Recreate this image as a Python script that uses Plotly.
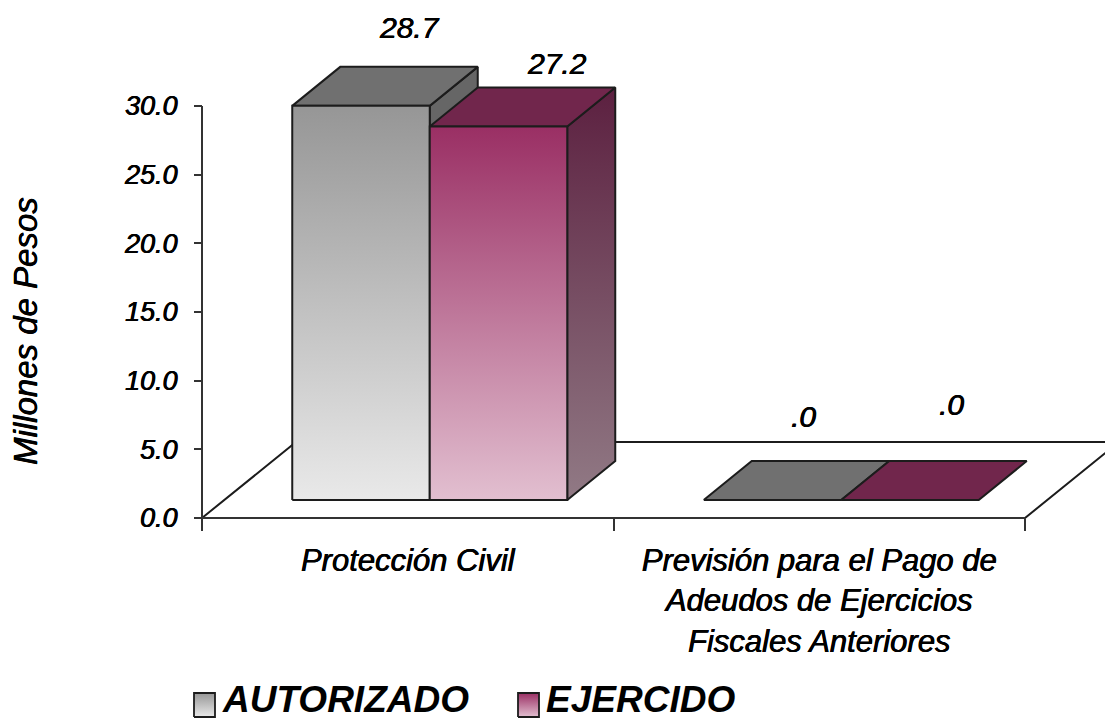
import plotly.graph_objects as go

categories = ["Protección Civil", "Previsión para el Pago de<br>Adeudos de Ejercicios<br>Fiscales Anteriores"]
series_names = ["AUTORIZADO", "EJERCIDO"]
autorizado = [28.7, 0.0]
ejercido = [27.2, 0.0]
value_labels = [["28.7", ".0"], ["27.2", ".0"]]
y_ticks = [0, 5, 10, 15, 20, 25, 30]
y_tick_labels = ["0.0", "5.0", "10.0", "15.0", "20.0", "25.0", "30.0"]

W, H = 1105, 721
L, R, T, B = 202, 1025, 106, 518
PX = (R - L) / 2.0      # px per x unit
PY = (B - T) / 30.0     # px per y unit
def dx(p): return p / PX
def dy(p): return p / PY
def px_x(p): return (p - L) / PX
def px_y(p): return (B - p) / PY

FLOOR_DX, FLOOR_DY = dx(94), dy(76)
FRONT_DX, FRONT_DY = dx(22), dy(18)
DEPTH_DX, DEPTH_DY = dx(48), dy(39)
BAR_W = dx(137.5)
INK = "#1c1c1c"
AXIS = "#333333"
FONT = "Liberation Sans"
HEAVY = "0.4px 0 0 #000, -0.3px 0 0 #000"

styles = [
    dict(front=("#e9e9e9", "#969696"), side=("#666666", "#666666"), top="#707070"),
    dict(front=("#e2bfd0", "#9a2f64"), side=("#917a85", "#5c2040"), top="#71264c"),
]
label_shift = [[(0, -39), (-17, -45)], [(10, -24), (-7, -57)]]

fig = go.Figure()

def poly(xs, ys, fill=None, grad=None, width=2.0):
    kw = dict(fillcolor=fill) if fill else dict(
        fillgradient=dict(type="vertical", colorscale=[[0, grad[0]], [1, grad[1]]]))
    fig.add_trace(go.Scatter(
        x=xs + xs[:1], y=ys + ys[:1], mode="lines", fill="toself",
        line=dict(color=INK, width=width),
        hoverinfo="skip", showlegend=False, **kw))

def axis_line(xs, ys):
    fig.add_trace(go.Scatter(x=xs, y=ys, mode="lines", line=dict(color=AXIS, width=2),
                             hoverinfo="skip", showlegend=False))

# floor
poly([0, 2, 2 + FLOOR_DX, FLOOR_DX], [0, 0, FLOOR_DY, FLOOR_DY], fill="#ffffff")
axis_line([0, 0], [0, 30])
axis_line([0, 2], [0, 0])

# bars, from the values
annots = []
for s, values in enumerate([autorizado, ejercido]):
    st = styles[s]
    for c, v in enumerate(values):
        x0 = c + 0.5 - BAR_W + FRONT_DX + BAR_W * s
        x1 = x0 + BAR_W
        y0 = FRONT_DY
        y1 = FRONT_DY + v
        if v > 0:
            poly([x1, x1 + DEPTH_DX, x1 + DEPTH_DX, x1],
                 [y0, y0 + DEPTH_DY, y1 + DEPTH_DY, y1], grad=st["side"])
        poly([x0, x1, x1 + DEPTH_DX, x0 + DEPTH_DX],
             [y1, y1, y1 + DEPTH_DY, y1 + DEPTH_DY], fill=st["top"])
        if v > 0:
            poly([x0, x1, x1, x0], [y0, y0, y1, y1], grad=st["front"])
        sx, sy = label_shift[s][c]
        annots.append(dict(
            x=(x0 + x1) / 2 + DEPTH_DX, y=y1 + DEPTH_DY, text=value_labels[s][c],
            xref="x", yref="y", showarrow=False, xanchor="center", yanchor="middle",
            xshift=sx, yshift=-sy,
            font=dict(family=FONT, size=30, color="#000000", style="italic", shadow=HEAVY)))

# legend (hand-placed, swatches as gradient boxes)
legend_pos = [(194, 220), (518, 544)]
for s, name in enumerate(series_names):
    sx, tx = legend_pos[s]
    poly([px_x(sx), px_x(sx + 21), px_x(sx + 21), px_x(sx)],
         [px_y(717), px_y(717), px_y(693), px_y(693)],
         grad=styles[s]["front"], width=1.8)
    annots.append(dict(
        x=px_x(tx), y=px_y(699), text=name, xref="x", yref="y", showarrow=False,
        xanchor="left", yanchor="middle",
        font=dict(family=FONT, size=37, color="#000000", weight="bold", style="italic")))

annots.append(dict(
    x=px_x(25), y=px_y(331), xref="x", yref="y", text="Millones de Pesos", textangle=-90,
    showarrow=False, xanchor="center", yanchor="middle",
    font=dict(family=FONT, size=33, color="#000000", style="italic", shadow=HEAVY)))

fig.update_layout(
    width=W, height=H, autosize=False,
    margin=dict(l=0, r=0, t=0, b=0, pad=0),
    paper_bgcolor="#ffffff", plot_bgcolor="#ffffff",
    annotations=annots, showlegend=False,
    xaxis=dict(range=[px_x(0), px_x(W)], tickmode="array", tickvals=[0.5, 1.5], ticktext=categories,
               ticks="", showgrid=False, zeroline=False, showline=False,
               anchor="free", position=(H - B) / H, ticklabelstandoff=21,
               tickfont=dict(family=FONT, size=31, color="#000000", style="italic", shadow=HEAVY),
               minor=dict(tickmode="array", tickvals=[0, 1, 2], ticks="outside", ticklen=12,
                          tickwidth=1.5, tickcolor=AXIS, showgrid=False)),
    yaxis=dict(range=[px_y(H), px_y(0)], tickmode="array", tickvals=y_ticks, ticktext=y_tick_labels,
               ticks="outside", ticklen=8, tickwidth=1.5, tickcolor=AXIS,
               showgrid=False, zeroline=False, showline=False,
               anchor="free", position=L / W, ticklabelstandoff=11,
               tickfont=dict(family=FONT, size=27, color="#000000", style="italic", shadow=HEAVY)),
)

fig.write_html("out.html", config=dict(displayModeBar=False),
               post_script="document.body.style.margin='0';")
